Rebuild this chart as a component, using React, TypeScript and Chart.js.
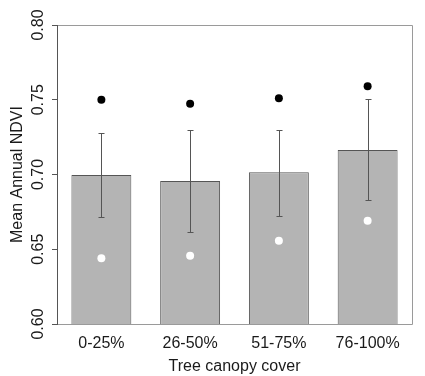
import React, { useEffect, useRef } from "react";
import { Chart, registerables } from "chart.js";

Chart.register(...registerables);

const categories = ["0-25%", "26-50%", "51-75%", "76-100%"];
const meanValues = [0.6997, 0.6957, 0.7015, 0.7164];
const errUpper = [0.7278, 0.7296, 0.73, 0.7503];
const errLower = [0.6714, 0.6617, 0.6722, 0.6827];
const blackDots = [0.75, 0.7474, 0.751, 0.759];
const whiteDots = [0.6439, 0.6457, 0.6557, 0.6691];
const yTicks = [0.6, 0.65, 0.7, 0.75, 0.8];
const yTickLabels = ["0.60", "0.65", "0.70", "0.75", "0.80"];

const FONT = "'Liberation Sans', Arial, sans-serif";

const overlayPlugin = {
  id: "overlay",
  afterDatasetDraw(chart: any, args: any) {
    if (args.index !== 0) return;
    const ctx = chart.ctx;
    const y = chart.scales.y;
    const meta = chart.getDatasetMeta(0);
    ctx.save();
    ctx.strokeStyle = "#555555";
    ctx.lineWidth = 1;
    meta.data.forEach((bar: any, i: number) => {
      const x = Math.round(bar.x) + 0.5;
      const yu = Math.round(y.getPixelForValue(errUpper[i])) + 0.5;
      const yl = Math.round(y.getPixelForValue(errLower[i])) + 0.5;
      ctx.beginPath();
      ctx.moveTo(x, yu);
      ctx.lineTo(x, yl);
      ctx.moveTo(x - 3, yu);
      ctx.lineTo(x + 3, yu);
      ctx.moveTo(x - 3, yl);
      ctx.lineTo(x + 3, yl);
      ctx.stroke();
    });
    ctx.restore();
  },
  afterDraw(chart: any) {
    const ctx = chart.ctx;
    const { left, right, top, bottom } = chart.chartArea;
    const y = chart.scales.y;
    ctx.save();
    ctx.lineWidth = 1;
    ctx.strokeStyle = "#9a9a9a";
    ctx.beginPath();
    ctx.moveTo(left, top + 0.5);
    ctx.lineTo(right + 0.5, top + 0.5);
    ctx.lineTo(right + 0.5, bottom + 0.5);
    ctx.lineTo(left, bottom + 0.5);
    ctx.stroke();
    ctx.strokeStyle = "#555555";
    ctx.beginPath();
    ctx.moveTo(left + 0.5, top);
    ctx.lineTo(left + 0.5, bottom + 1);
    ctx.stroke();
    ctx.fillStyle = "#1a1a1a";
    ctx.font = `16px ${FONT}`;
    ctx.textAlign = "center";
    ctx.textBaseline = "middle";
    yTicks.forEach((v, i) => {
      const py = y.getPixelForValue(v);
      ctx.save();
      ctx.translate(38.5, py);
      ctx.rotate(-Math.PI / 2);
      ctx.fillText(yTickLabels[i], 0, 0);
      ctx.restore();
    });
    ctx.restore();
  },
};

export default function App() {
  const ref = useRef<HTMLCanvasElement>(null);
  useEffect(() => {
    if (!ref.current) return;
    const chart = new Chart(ref.current, {
      type: "bar",
      data: {
        labels: categories,
        datasets: [
          {
            type: "bar",
            data: meanValues,
            backgroundColor: "#b4b4b4",
            borderColor: "#555555",
            borderWidth: 1,
            categoryPercentage: 1,
            barPercentage: 0.675,
            order: 2,
          } as any,
          {
            type: "line",
            data: blackDots,
            showLine: false,
            pointRadius: 4,
            pointBackgroundColor: "#000000",
            pointBorderColor: "#000000",
            pointBorderWidth: 0,
            order: 1,
          } as any,
          {
            type: "line",
            data: whiteDots,
            showLine: false,
            pointRadius: 4,
            pointBackgroundColor: "#ffffff",
            pointBorderColor: "#ffffff",
            pointBorderWidth: 0,
            order: 0,
          } as any,
        ],
      },
      options: {
        animation: false,
        responsive: false,
        maintainAspectRatio: false,
        layout: { padding: { top: 25, right: 13, left: 0, bottom: 0 } },
        plugins: {
          legend: { display: false },
          tooltip: { enabled: false },
        },
        scales: {
          x: {
            grid: { display: false, drawTicks: false },
            border: { display: false },
            ticks: {
              color: "#1a1a1a",
              font: { family: FONT, size: 16 },
              padding: 10,
            },
            title: {
              display: true,
              text: "Tree canopy cover",
              color: "#1a1a1a",
              font: { family: FONT, size: 16 },
              padding: { top: 0, bottom: 0 },
            },
            afterFit(scale: any) {
              scale.height = 52;
            },
          },
          y: {
            min: 0.6,
            max: 0.8,
            ticks: {
              stepSize: 0.05,
              callback: () => "",
              padding: 0,
            },
            grid: {
              drawOnChartArea: false,
              drawTicks: true,
              tickLength: 5,
              color: "#555555",
            },
            border: { display: false },
            title: {
              display: true,
              text: "Mean Annual NDVI",
              color: "#1a1a1a",
              font: { family: FONT, size: 16 },
              padding: { top: 8, bottom: 0 },
            },
            afterFit(scale: any) {
              scale.width = 57;
            },
          },
        },
      },
      plugins: [overlayPlugin],
    });
    return () => chart.destroy();
  }, []);
  return (
    <div style={{ position: "fixed", left: 0, top: 0, width: 425, height: 376, background: "#fff" }}>
      <canvas ref={ref} width={425} height={376} style={{ width: 425, height: 376 }} />
    </div>
  );
}
